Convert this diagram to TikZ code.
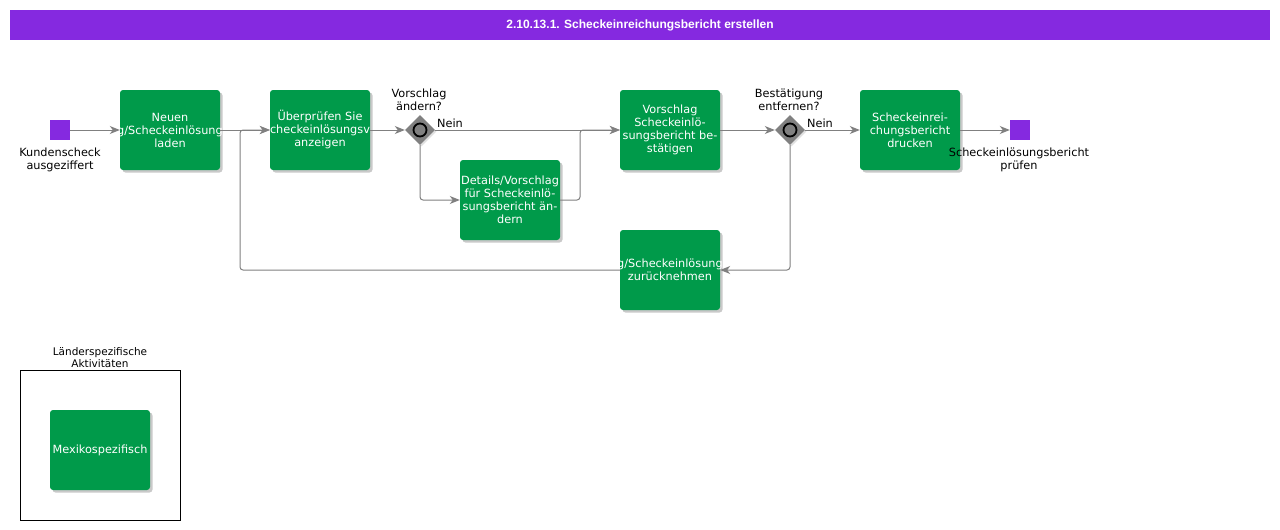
\documentclass[tikz,border=0pt]{standalone}
\usepackage{fontspec}
\setmainfont{DejaVu Sans}
\newfontfamily\titlefont{Liberation Sans}
\usetikzlibrary{positioning,shadows,arrows.meta,shapes.geometric}
\definecolor{taskgreen}{RGB}{0,154,74}
\definecolor{evpurple}{RGB}{133,41,224}
\definecolor{flowgray}{RGB}{128,128,128}
% a line that runs past the box edge
\newcommand{\cutline}[1]{\makebox[96pt]{#1}}

\begin{document}
\begin{tikzpicture}[x=1pt, y=-1pt, font=\fontsize{11.3}{13}\selectfont,
  task/.style={fill=taskgreen, text=white, rounded corners=3pt, align=center,
    minimum width=100pt, minimum height=80pt, inner sep=0pt,
    drop shadow={shadow xshift=2.5pt, shadow yshift=-2.5pt, fill=black!30, opacity=.7}},
  event/.style={fill=evpurple, minimum size=20pt, inner sep=0pt},
  gateway/.style={diamond, fill=flowgray, minimum size=30pt, inner sep=0pt,
    drop shadow={shadow xshift=1.5pt, shadow yshift=-1.5pt, fill=black!20, opacity=.6}},
  gwlabel/.style={align=center, inner sep=0pt},
  flow/.style={draw=flowgray, line width=1pt, rounded corners=3pt,
    -{Stealth[length=10pt, width=8pt, inset=3pt]}}]
  \useasboundingbox (0,0) rectangle (1280,530);

  % title bar
  \node [fill=evpurple, minimum width=1260pt, minimum height=30pt, inner sep=0pt,
    text=white, font=\titlefont\bfseries\fontsize{12}{14}\selectfont] (title) at (640,25)
    {2.10.13.1. Scheckeinreichungsbericht erstellen};

  \node [event] (start) at (60,130) {};
  \node [gwlabel] (startlbl) at (60,160) {Kundenscheck\\ausgeziffert};

  \begin{scope}[every node/.style={task}]
    \node (neuen) at (170,130) {Neuen\\\cutline{g/Scheckeinlösung}\\laden};
    \node (pruefen) at (320,130) {Überprüfen Sie\\\cutline{checkeinlösungsv}\\anzeigen};
    \node (details) at (510,200) {Details/Vorschlag\\für Scheckeinlö-\\sungsbericht än-\\dern};
    \node (bestaetigen) at (670,130) {Vorschlag\\Scheckeinlö-\\sungsbericht be-\\stätigen};
    \node (zurueck) at (670,270) {\cutline{g/Scheckeinlösung}\\zurücknehmen};
    \node (drucken) at (910,130) {Scheckeinrei-\\chungsbericht\\drucken};
  \end{scope}

  \node [gateway] (gwaendern) at (420,130) {};
  \draw [line width=1.8pt, fill=flowgray] (gwaendern) circle (6.5pt);
  \node [gwlabel] (aendernlbl) at (419,100) {Vorschlag\\ändern?};

  \node [gateway] (gwentf) at (790,130) {};
  \draw [line width=1.8pt, fill=flowgray] (gwentf) circle (6.5pt);
  \node [gwlabel] (entflbl) at (789,100) {Bestätigung\\entfernen?};

  \node [event] (ende) at (1020,130) {};
  \node [gwlabel] (endelbl) at (1019,160) {Scheckeinlösungsbericht\\prüfen};

  \coordinate (merge) at (580,130);
  \coordinate (back) at (240,130);

  \draw [flow] (start) -- (neuen);
  \draw [flow] (neuen) -- (pruefen);
  \draw [flow] (pruefen) -- (gwaendern);
  \draw [flow] (gwaendern) -- node [pos=.08, above=2pt, inner sep=0pt] (nein1) {Nein} (bestaetigen);
  \draw [flow] (gwaendern.south) |- (details);
  \draw [flow] (details) -| (merge) -- (bestaetigen);
  \draw [flow] (bestaetigen) -- (gwentf);
  \draw [flow] (gwentf) -- node [pos=.27, above=2pt, inner sep=0pt] (nein2) {Nein} (drucken);
  \draw [flow] (drucken) -- (ende);
  \draw [flow] (gwentf.south) |- (zurueck);
  \draw [flow] (zurueck) -| (back) -- (pruefen);

  % country specific lane
  \node [draw, minimum width=160pt, minimum height=150pt, inner sep=0pt] (laender) at (100,445) {};
  \node [gwlabel, font=\fontsize{10.5}{12}\selectfont] (laenderlbl) at (100,358) {Länderspezifische\\Aktivitäten};
  \node [task] (mexiko) at (100,450) {Mexikospezifisch};
\end{tikzpicture}
\end{document}
